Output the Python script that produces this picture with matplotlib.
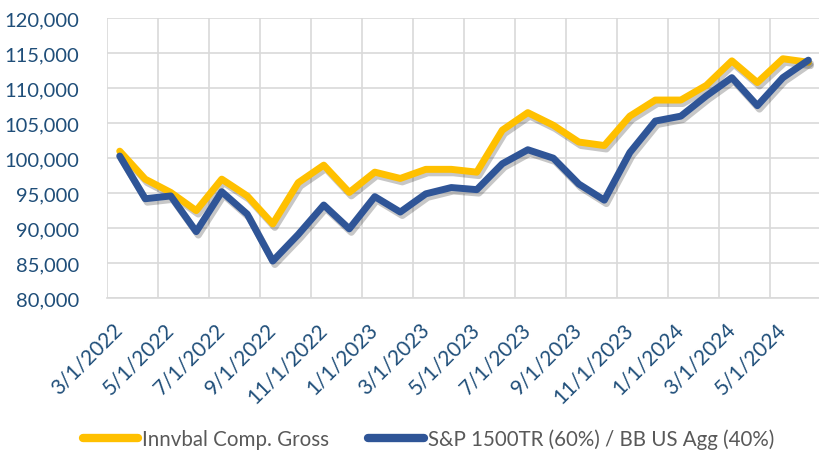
import numpy as np
import matplotlib
matplotlib.use('Agg')
import matplotlib.pyplot as plt
import matplotlib.patheffects as pe
from matplotlib.ticker import FuncFormatter
from matplotlib.transforms import ScaledTranslation

# Monthly dates, 3/1/2022 .. 6/1/2024
dates = []
for k in range(28):
    m = 3 + k
    y = 2022 + (m - 1) // 12
    mm = (m - 1) % 12 + 1
    dates.append(f"{mm}/1/{y}")

innvbal = [101000, 97000, 95100, 92500, 97000, 94600, 90600, 96500, 99000, 95100,
           98000, 97100, 98400, 98400, 98000, 104000, 106500, 104700, 102300, 101800,
           106000, 108300, 108300, 110400, 113900, 110800, 114200, 113700]
benchmark = [100300, 94200, 94600, 89500, 95200, 92000, 85300, 89100, 93300, 89900,
             94500, 92300, 94900, 95800, 95500, 99200, 101200, 100000, 96300, 94000,
             100800, 105300, 106000, 108900, 111500, 107500, 111500, 114000]

GOLD = '#FFC000'
BLUE = '#2F5597'
TEXT = '#1F4E79'

plt.rcParams['font.family'] = ['Lato', 'DejaVu Sans']

fig = plt.figure(figsize=(8.19, 4.56), dpi=100)
ax = fig.add_axes([0.1306, 0.344, 0.872, 0.614])

x = np.arange(len(dates))
shadow = [pe.SimpleLineShadow(offset=(1.5, -2.5), shadow_color='black', alpha=0.22), pe.Normal()]
ax.plot(x, innvbal, color=GOLD, linewidth=5, solid_capstyle='round', solid_joinstyle='round',
        label='Innvbal Comp. Gross', path_effects=shadow, zorder=3)
ax.plot(x, benchmark, color=BLUE, linewidth=5, solid_capstyle='round', solid_joinstyle='round',
        label='S&P 1500TR (60%) / BB US Agg (40%)', path_effects=shadow, zorder=4)

ax.set_xlim(-0.5, len(dates) - 0.5)
ax.set_ylim(80000, 120000)
ax.set_yticks(np.arange(80000, 120001, 5000))
ax.yaxis.set_major_formatter(FuncFormatter(lambda v, p: f"{int(v):,}"))

ax.set_xticks(x[::2])
ax.set_xticklabels(dates[::2], rotation=45, ha='right', va='center', rotation_mode='anchor')
ax.set_xticks(np.arange(-0.5, len(dates), 2), minor=True)
shift = ScaledTranslation(4 / 100, 0, fig.dpi_scale_trans)
for lbl in ax.get_xticklabels():
    lbl.set_transform(lbl.get_transform() + shift)

ax.grid(True, axis='y', which='major', color='#D9D9D9', linewidth=1.2)
ax.grid(True, axis='x', which='minor', color='#D9D9D9', linewidth=1.2)
ax.set_axisbelow(True)
for s in ['top', 'right', 'left']:
    ax.spines[s].set_visible(False)
ax.spines['bottom'].set_color('#D9D9D9')
ax.spines['bottom'].set_linewidth(1.2)

ax.tick_params(axis='both', which='both', length=0, labelcolor=TEXT)
ax.tick_params(axis='y', labelsize=14.5, pad=20)
ax.tick_params(axis='x', labelsize=15, pad=20)

leg = fig.legend(loc='center', bbox_to_anchor=(0.523, 0.035), ncol=2, frameon=False,
                 fontsize=14.8, handlelength=2.7, columnspacing=1.9, handletextpad=0.2)
for t in leg.get_texts():
    t.set_color('#595959')
for h in leg.legend_handles:
    h.set_path_effects([])
    h.set_linewidth(6)
    h.set_solid_capstyle('round')

fig.savefig('out.png', dpi=100)
